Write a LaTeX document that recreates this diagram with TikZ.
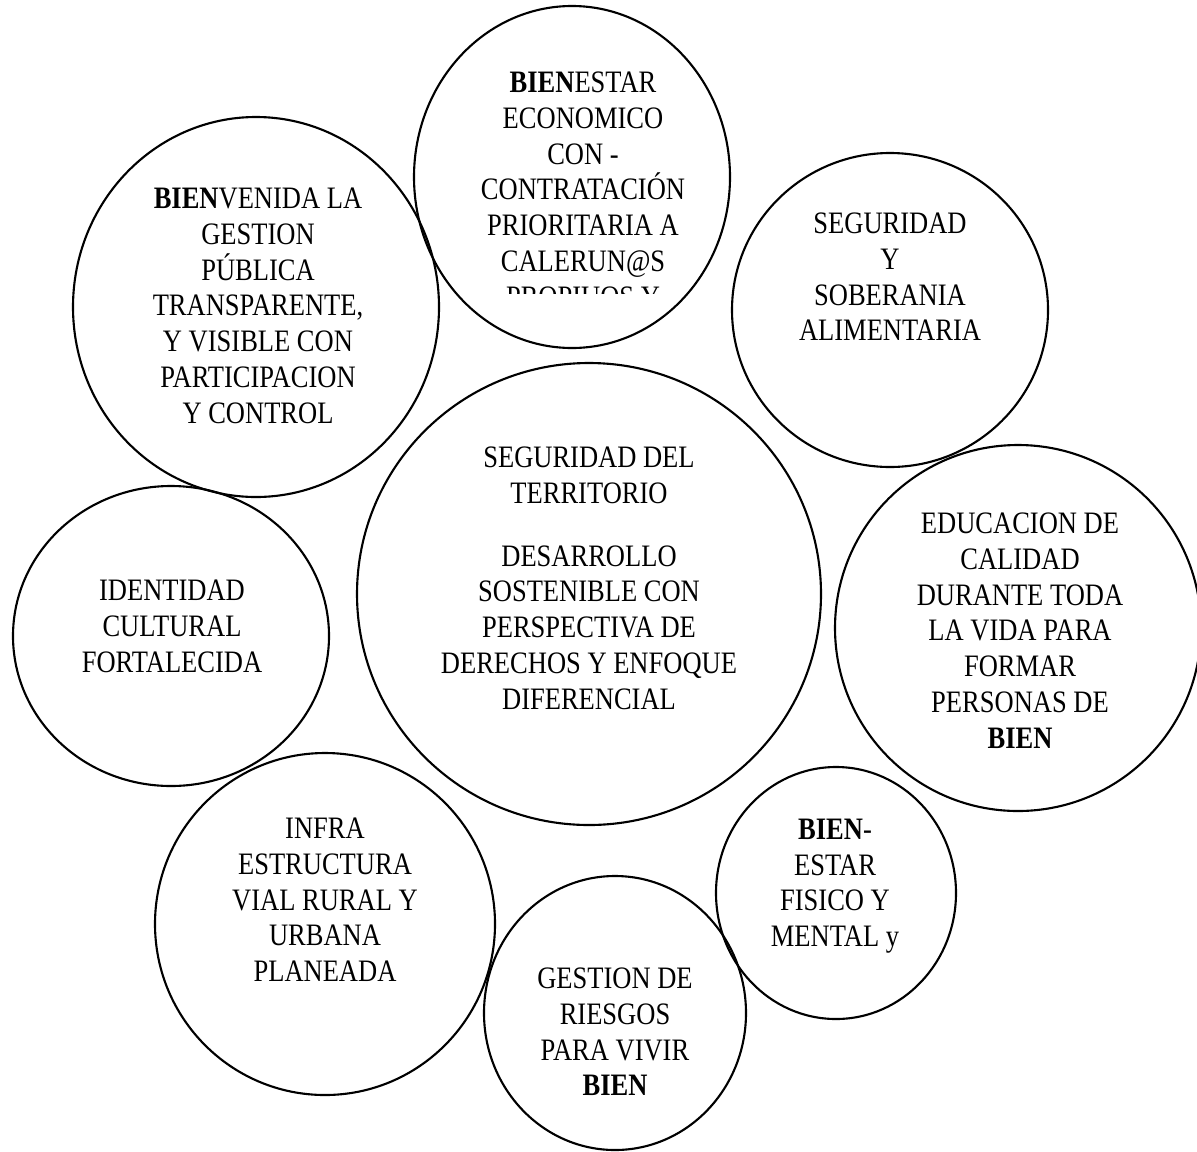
\documentclass[tikz,border=0pt]{standalone}
\usepackage{fontspec}
\setmainfont{Liberation Serif}[FakeStretch=0.85]
\usepackage{tikz}

\begin{document}
\begin{tikzpicture}[x=0.01cm, y=-0.01cm]
			\tikzset{ring/.style={draw, line width=0.6pt}}
			\tikzset{lbl/.style={align=center, inner sep=0pt, anchor=north, font=\fontsize{8.87}{10.2}\selectfont}}
			\useasboundingbox (0, 0) rectangle (1197, 1151);
			%centres
			\coordinate (cvenida) at (256, 307);
			\coordinate (ceconomico) at (572, 177);
			\coordinate (csoberania) at (890, 310);
			\coordinate (cterritorio) at (589, 594);
			\coordinate (cidentidad) at (171, 636);
			\coordinate (ceducacion) at (1018, 628);
			\coordinate (cinfra) at (325, 924);
			\coordinate (cfisico) at (836, 893);
			\coordinate (criesgos) at (615, 1013);
			%circles
			\draw[ring] (cvenida) ellipse [x radius=183, y radius=190];
			\draw[ring] (ceconomico) ellipse [x radius=158, y radius=171];
			\draw[ring] (csoberania) ellipse [x radius=158, y radius=157];
			\draw[ring] (cterritorio) ellipse [x radius=232, y radius=231];
			\draw[ring] (cidentidad) ellipse [x radius=158, y radius=150];
			\draw[ring] (ceducacion) ellipse [x radius=183, y radius=183];
			\draw[ring] (cinfra) ellipse [x radius=170, y radius=171];
			\draw[ring] (cfisico) ellipse [x radius=120, y radius=126];
			\draw[ring] (criesgos) ellipse [x radius=131, y radius=137];
			%texts
			\node[lbl] (venida) at (258, 187) {\textbf{BIEN}VENIDA LA\\GESTION\\PÚBLICA\\TRANSPARENTE,\\Y VISIBLE CON\\PARTICIPACION\\Y CONTROL};
			\begin{scope}
				\clip (412, 0) rectangle (735, 293);
				\node[lbl] (economico) at (583, 71) {\textbf{BIEN}ESTAR\\ECONOMICO\\CON -\\CONTRATACIÓN\\PRIORITARIA A\\CALERUN@S\\PROPIUOS Y};
			\end{scope}
			\node[lbl] (soberania) at (890, 212) {SEGURIDAD\\Y\\SOBERANIA\\ALIMENTARIA};
			\node[lbl] (territorio) at (589, 446) {SEGURIDAD DEL\\TERRITORIO\\[0.27cm]DESARROLLO\\SOSTENIBLE CON\\PERSPECTIVA DE\\DERECHOS Y ENFOQUE\\DIFERENCIAL};
			\node[lbl] (identidad) at (172, 579) {IDENTIDAD\\CULTURAL\\FORTALECIDA};
			\node[lbl] (educacion) at (1020, 512) {EDUCACION DE\\CALIDAD\\DURANTE TODA\\LA VIDA PARA\\FORMAR\\PERSONAS DE\\\textbf{BIEN}};
			\node[lbl] (infra) at (325, 817) {INFRA\\ESTRUCTURA\\VIAL RURAL Y\\URBANA\\PLANEADA};
			\node[lbl] (fisico) at (835, 818) {\textbf{BIEN}-\\ESTAR\\FISICO Y\\MENTAL y};
			\node[lbl] (riesgos) at (615, 967) {GESTION DE\\RIESGOS\\PARA VIVIR\\\textbf{BIEN}};
\end{tikzpicture}
\end{document}
